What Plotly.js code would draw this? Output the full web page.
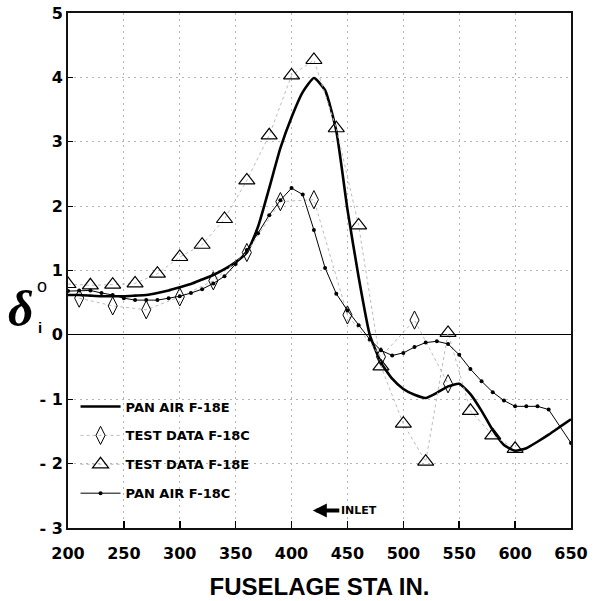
<!DOCTYPE html>
<html>
<head>
<meta charset="utf-8">
<script src="https://cdn.plot.ly/plotly-3.0.1.min.js"></script>
<style>html,body{margin:0;padding:0;background:#fff;}#chart{width:595px;height:601px;}</style>
</head>
<body>
<div id="chart"></div>
<script>
// ---- data ----
const panE_x = [200,210,220,230,240,250,260,270,280,290,300,310,320,330,340,350,360,370,380,390,400,410,420,430,440,450,460,470,480,490,500,510,520,530,540,550,560,570,580,590,600,610,620,630,640,650];
const panE_y = [0.62,0.62,0.61,0.60,0.60,0.60,0.61,0.62,0.65,0.69,0.74,0.79,0.86,0.93,1.02,1.13,1.28,1.68,2.28,2.90,3.38,3.77,3.99,3.80,3.17,1.95,0.90,0.00,-0.43,-0.68,-0.84,-0.93,-0.98,-0.90,-0.80,-0.76,-0.92,-1.18,-1.48,-1.71,-1.80,-1.76,-1.66,-1.55,-1.43,-1.31];

const testC_x = [210,240,270,300,330,360,390,420,450,480,510,540];
const testC_y = [0.57,0.45,0.39,0.59,0.84,1.28,2.07,2.10,0.31,-0.34,0.23,-0.76];

const testE_x = [200,220,240,260,280,300,320,340,360,380,400,420,440,460,480,500,520,540,560,580,600];
const testE_y = [0.79,0.77,0.78,0.80,0.95,1.21,1.40,1.80,2.40,3.10,4.03,4.27,3.21,1.70,-0.49,-1.38,-1.97,0.03,-1.18,-1.56,-1.77];

const panC_x = [200,210,220,230,240,250,260,270,280,290,300,310,320,330,340,350,360,370,380,390,400,410,420,430,440,450,460,470,480,490,500,510,520,530,540,550,560,570,580,590,600,610,620,630,650];
const panC_y = [0.68,0.69,0.69,0.65,0.62,0.57,0.54,0.54,0.54,0.57,0.60,0.65,0.71,0.80,0.91,1.10,1.32,1.58,1.86,2.09,2.28,2.18,1.63,1.04,0.64,0.38,0.15,-0.07,-0.24,-0.32,-0.28,-0.19,-0.12,-0.10,-0.14,-0.31,-0.53,-0.72,-0.89,-1.02,-1.11,-1.11,-1.11,-1.16,-1.68];

const seriesNames = ['PAN AIR F-18E','TEST DATA F-18C','TEST DATA F-18E','PAN AIR F-18C'];
const xTickVals = [200,250,300,350,400,450,500,550,600,650];
const xTickText = ['200','250','300','350','400','450','500','550','600','650'];
const yTickVals = [-3,-2,-1,0,1,2,3,4,5];
const yTickText = ['- 3','- 2','- 1','0','1','2','3','4','5'];

const traces = [
  {x: panE_x, y: panE_y, name: seriesNames[0], type:'scatter', mode:'lines',
   line:{color:'#000', width:2.6, shape:'spline', smoothing:0.5}, legendgroup:'a'},
  {x: testC_x, y: testC_y, name: seriesNames[1], type:'scatter', mode:'lines+markers',
   line:{color:'#bbb', width:1, dash:'dot'},
   marker:{symbol:'diamond-tall-open', size:13, color:'#000', line:{width:1, color:'#000'}}, legendgroup:'b'},
  {x: testE_x, y: testE_y, name: seriesNames[2], type:'scatter', mode:'lines+markers',
   line:{color:'#bbb', width:1, dash:'dot'},
   marker:{symbol:'triangle-up-open', size:14, color:'#000', line:{width:1.2, color:'#000'}}, legendgroup:'c'},
  {x: panC_x, y: panC_y, name: seriesNames[3], type:'scatter', mode:'lines+markers',
   line:{color:'#000', width:1}, marker:{symbol:'circle', size:4, color:'#000'}, legendgroup:'d'}
];

const layout = {
  width:595, height:601,
  margin:{l:68, r:24, t:13, b:73},
  paper_bgcolor:'#fff', plot_bgcolor:'#fff',
  showlegend:true,
  legend:{x:0.015, y:0.265, xanchor:'left', yanchor:'top', bgcolor:'rgba(0,0,0,0)',
          font:{family:'DejaVu Sans', size:13, color:'#000', weight:'bold'},
          tracegroupgap:9, itemwidth:40},
  xaxis:{range:[200,650], tickvals:xTickVals, ticktext:xTickText,
         tickfont:{family:'DejaVu Sans', size:16, color:'#000', weight:'bold'},
         ticks:'inside', ticklen:7, tickcolor:'#000', tickwidth:1.5,
         showgrid:true, gridcolor:'#b4b4b4', griddash:'2px,4px', gridwidth:1,
         showline:true, linecolor:'#111', linewidth:2, mirror:true, zeroline:false,
         ticklabelstandoff:10,
         title:{text:'FUSELAGE STA IN.', font:{family:'Liberation Sans', size:24, color:'#000', weight:'bold'}, standoff:16}},
  yaxis:{range:[-3,5], tickvals:yTickVals, ticktext:yTickText,
         tickfont:{family:'DejaVu Sans', size:16, color:'#000', weight:'bold'},
         ticks:'inside', ticklen:5, tickcolor:'#000', tickwidth:1,
         showgrid:true, gridcolor:'#b4b4b4', griddash:'2px,4px', gridwidth:1,
         showline:true, linecolor:'#111', linewidth:2, mirror:true,
         zeroline:true, zerolinecolor:'#000', zerolinewidth:1},
  annotations:[
    {xref:'paper', yref:'paper', x:-0.093, y:0.425, text:'<i><b>δ</b></i>', showarrow:false,
     font:{family:'Liberation Serif', size:50, color:'#000'}, xanchor:'center', yanchor:'middle'},
    {xref:'paper', yref:'paper', x:-0.052, y:0.47, text:'o', showarrow:false,
     font:{family:'Liberation Sans', size:18, color:'#000'}, xanchor:'center', yanchor:'middle'},
    {xref:'paper', yref:'paper', x:-0.056, y:0.39, text:'i', showarrow:false,
     font:{family:'Liberation Sans', size:15, color:'#000', weight:'bold'}, xanchor:'center', yanchor:'middle'},
    {xref:'x', yref:'y', x:419, y:-2.73, ax:46, ay:0, text:'INLET', showarrow:true,
     arrowhead:2, arrowsize:0.7, arrowwidth:4, arrowcolor:'#000', standoff:0, startstandoff:0,
     font:{family:'DejaVu Sans', size:11, color:'#000', weight:'bold'}}
  ]
};

Plotly.newPlot('chart', traces, layout, {displayModeBar:false, staticPlot:true});
</script>
</body>
</html>
